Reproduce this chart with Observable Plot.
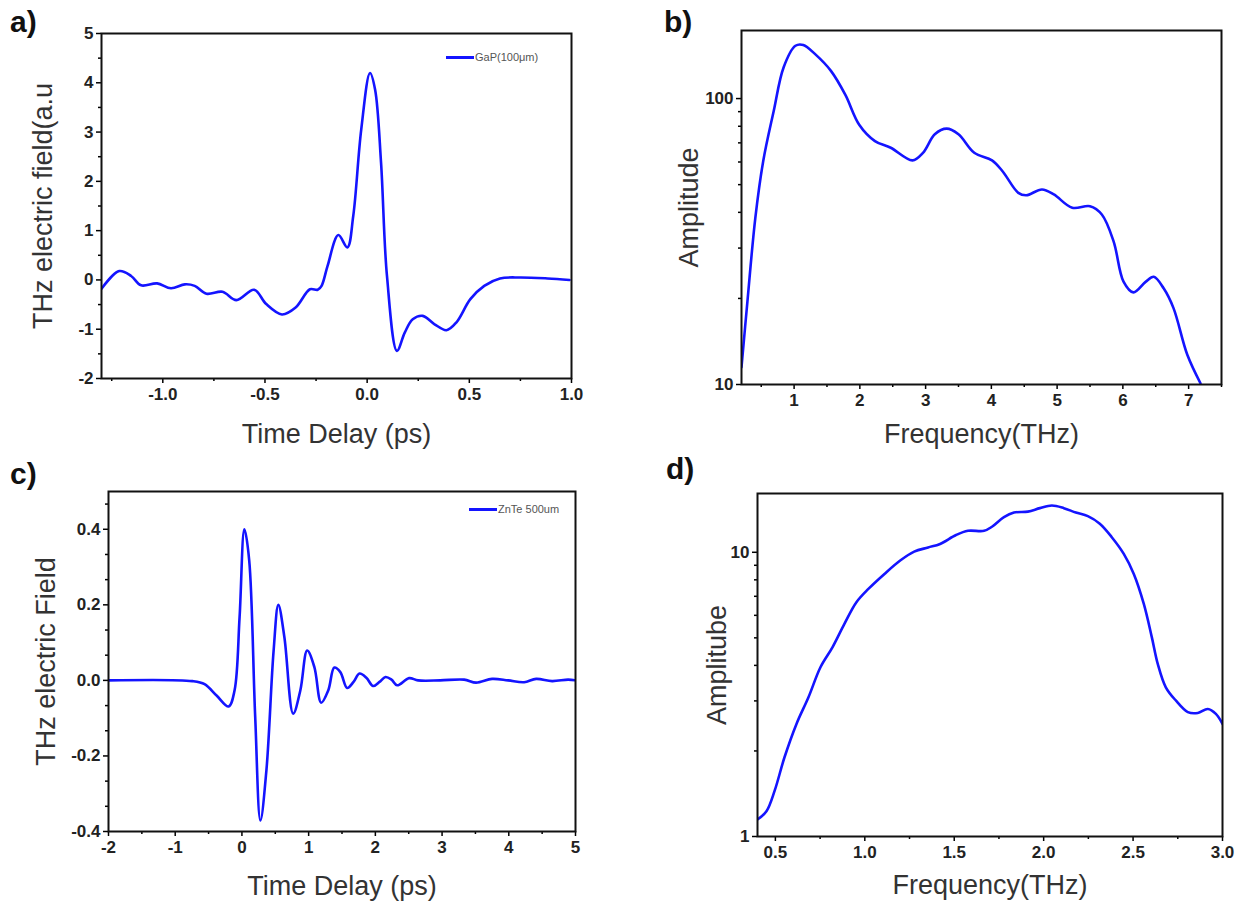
<!DOCTYPE html>
<html><head><meta charset="utf-8">
<script src="https://cdn.jsdelivr.net/npm/d3@7"></script>
<script src="https://cdn.jsdelivr.net/npm/@observablehq/plot@0.6"></script>
<style>
body{margin:0;background:#fff;}
#wrap{position:relative;width:1243px;height:904px;font-family:"Liberation Sans",Arial,sans-serif;}
.panel{position:absolute;}
.plabel{position:absolute;font-weight:bold;font-size:30px;line-height:30px;color:#111;}
.legend{position:absolute;font-size:11px;line-height:12px;color:#555;display:flex;align-items:center;white-space:nowrap;}
.legend .sw{display:inline-block;width:28px;height:3px;background:#1414ff;margin-right:1px;}
</style></head><body><div id="wrap"></div>
<script>
// ---- Panel a: GaP time trace ----
const aTime  = [-1.3,-1.213,-1.155,-1.106,-1.028,-0.96,-0.892,-0.844,-0.786,-0.708,-0.64,-0.553,-0.494,-0.417,-0.35,-0.28,-0.242,-0.223,-0.194,-0.141,-0.097,-0.068,-0.029,0.014,0.039,0.068,0.097,0.146,0.184,0.223,0.272,0.33,0.388,0.437,0.505,0.573,0.65,0.748,0.883,0.99];
const aField = [-0.18,0.18,0.08,-0.11,-0.07,-0.17,-0.09,-0.12,-0.28,-0.24,-0.41,-0.2,-0.49,-0.70,-0.56,-0.19,-0.2,-0.12,0.28,0.91,0.66,1.30,3.05,4.20,3.86,2.38,0.08,-1.44,-1.07,-0.80,-0.73,-0.90,-1.02,-0.86,-0.39,-0.12,0.03,0.05,0.03,0.0];
// ---- Panel b: GaP spectrum ----
const bFreq = [0.2,0.29,0.41,0.53,0.69,0.84,1.02,1.14,1.32,1.56,1.78,1.99,2.23,2.47,2.80,2.96,3.14,3.32,3.50,3.74,4.01,4.17,4.41,4.53,4.77,4.95,5.23,5.50,5.68,5.86,6.01,6.16,6.35,6.47,6.62,6.77,6.98,7.18];
const bAmp  = [11.5,19.5,38.2,60.4,90.5,128.5,153,154,143,125,103,81,71,67.3,60.8,64.6,75,78.5,75,64.6,60.8,55.7,46.8,45.9,48.1,46.2,41.5,42,39.3,31.6,22.9,21.0,22.9,23.8,21.7,18.5,12.7,10.1];
// ---- Panel c: ZnTe time trace ----
const cTime  = [-2,-0.742,-0.56,-0.38,-0.2,-0.11,-0.035,0.037,0.109,0.199,0.277,0.367,0.475,0.546,0.636,0.768,0.876,0.978,1.086,1.188,1.295,1.385,1.475,1.577,1.673,1.763,1.865,1.967,2.062,2.152,2.242,2.326,2.506,2.64,2.97,3.33,3.51,3.75,3.99,4.23,4.41,4.65,4.89,5];
const cField = [0,-0.002,-0.01,-0.04,-0.069,-0.026,0.168,0.40,0.318,-0.097,-0.371,-0.238,0.079,0.20,0.115,-0.088,-0.026,0.079,0.035,-0.059,-0.026,0.034,0.022,-0.02,-0.004,0.018,0.007,-0.015,-0.004,0.009,0.002,-0.013,0.006,0,0,0.002,-0.006,0.004,0,-0.005,0.004,-0.002,0.002,0];
// ---- Panel d: ZnTe spectrum ----
const dFreq = [0.402,0.451,0.496,0.551,0.618,0.685,0.752,0.819,0.886,0.953,1.02,1.11,1.198,1.276,1.354,1.421,1.51,1.577,1.667,1.711,1.778,1.834,1.912,1.979,2.046,2.113,2.18,2.247,2.314,2.381,2.448,2.504,2.56,2.605,2.638,2.683,2.739,2.806,2.862,2.918,2.963,3.0];
const dAmp  = [1.15,1.23,1.45,1.90,2.49,3.09,3.94,4.63,5.6,6.67,7.43,8.39,9.35,10.05,10.4,10.7,11.5,11.9,11.9,12.3,13.3,13.8,13.9,14.3,14.6,14.3,13.8,13.4,12.6,11.3,9.87,8.39,6.58,5.02,4.05,3.35,3.01,2.74,2.72,2.81,2.70,2.49];

// ---- Tick values ----
const aXMajor = [-1.0,-0.5,0.0,0.5,1.0];
const aXMinor = [-1.25,-0.75,-0.25,0.25,0.75];
const aYMajor = [-2,-1,0,1,2,3,4,5];
const aYMinor = [-1.5,-0.5,0.5,1.5,2.5,3.5,4.5];
const bXMajor = [1,2,3,4,5,6,7];
const bXMinor = [0.5,1.5,2.5,3.5,4.5,5.5,6.5,7.5];
const bYMajor = [10,100];
const bYMinor = [20,30,40,50,60,70,80,90];
const cXMajor = [-2,-1,0,1,2,3,4,5];
const cXMinor = [-1.5,-0.5,0.5,1.5,2.5,3.5,4.5];
const cYMajor = [-0.4,-0.2,0.0,0.2,0.4];
const cYMinor = [-0.3333,-0.2667,-0.1333,-0.0667,0.0667,0.1333,0.2667,0.3333,0.4667];
const dXMajor = [0.5,1.0,1.5,2.0,2.5,3.0];
const dXMinor = [0.75,1.25,1.75,2.25,2.75];
const dYMajor = [1,10];
const dYMinor = [2,3,4,5,6,7,8,9];

const LINE = "#1414ff";
const wrap = document.getElementById("wrap");

function panel(o) {
  const data = o.xs.map((x, i) => ({x, y: o.ys[i]}));
  const tickStyle = {fontSize: 17, fontWeight: "bold", fill: "#222"};
  const chart = Plot.plot({
    width: o.w, height: o.h,
    marginLeft: o.m[0], marginTop: o.m[1], marginRight: o.m[2], marginBottom: o.m[3],
    style: {fontFamily: '"Liberation Sans", Arial, sans-serif', background: "transparent", overflow: "visible"},
    x: {domain: o.xDomain},
    y: {domain: o.yDomain, type: o.yType || "linear"},
    marks: [
      Plot.line(data, {x: "x", y: "y", curve: "catmull-rom", stroke: LINE, strokeWidth: 2.6, clip: true}),
      Plot.axisX({ticks: o.xMajor, tickSize: 5, tickPadding: 4, tickFormat: o.xFmt, label: null, strokeWidth: 1.5, ...tickStyle}),
      Plot.axisX({ticks: o.xMinor, tickSize: 3, text: null, label: null, strokeWidth: 1.5}),
      Plot.axisY({ticks: o.yMajor, tickSize: 5, tickPadding: 3, tickFormat: o.yFmt, label: null, strokeWidth: 1.5, ...tickStyle}),
      Plot.axisY({ticks: o.yMinor, tickSize: 3, text: null, label: null, strokeWidth: 1.5}),
      Plot.frame({stroke: "#111", strokeWidth: 2}),
      Plot.text([o.xTitle], {frameAnchor: "bottom", lineAnchor: "middle", textAnchor: "middle", dy: o.xdy, fontSize: 27, fill: "#333"}),
      Plot.text([o.yTitle], {frameAnchor: "left", lineAnchor: "middle", textAnchor: "middle", dx: o.ydx, rotate: -90, fontSize: 27, fill: "#333"})
    ]
  });
  chart.classList.add("panel");
  chart.style.left = o.left + "px";
  chart.style.top = o.top + "px";
  wrap.appendChild(chart);
}

const fmt1 = d => d.toFixed(1);
const fmt0 = d => String(d);

panel({left: 0, top: 0, w: 621, h: 452, m: [101, 33, 50, 74],
  xs: aTime, ys: aField, xDomain: [-1.3, 1.0], yDomain: [-2, 5],
  xMajor: aXMajor, xMinor: aXMinor, yMajor: aYMajor, yMinor: aYMinor,
  xFmt: fmt1, yFmt: fmt0, xTitle: "Time Delay (ps)", yTitle: "THz electric field(a.u", xdy: 56, ydx: -58});

panel({left: 621, top: 0, w: 622, h: 452, m: [120, 30, 22, 68],
  xs: bFreq, ys: bAmp, xDomain: [0.2, 7.5], yDomain: [10, 173], yType: "log",
  xMajor: bXMajor, xMinor: bXMinor, yMajor: bYMajor, yMinor: bYMinor,
  xFmt: fmt0, yFmt: fmt0, xTitle: "Frequency(THz)", yTitle: "Amplitude", xdy: 50, ydx: -52});

panel({left: 0, top: 452, w: 621, h: 452, m: [108, 39, 46, 73],
  xs: cTime, ys: cField, xDomain: [-2, 5], yDomain: [-0.4, 0.5],
  xMajor: cXMajor, xMinor: cXMinor, yMajor: cYMajor, yMinor: cYMinor,
  xFmt: fmt0, yFmt: fmt1, xTitle: "Time Delay (ps)", yTitle: "THz electric Field", xdy: 55, ydx: -62});

panel({left: 621, top: 452, w: 622, h: 452, m: [136, 41, 21, 68],
  xs: dFreq, ys: dAmp, xDomain: [0.4, 3.0], yDomain: [1, 16.1], yType: "log",
  xMajor: dXMajor, xMinor: dXMinor, yMajor: dYMajor, yMinor: dYMinor,
  xFmt: fmt1, yFmt: fmt0, xTitle: "Frequency(THz)", yTitle: "Amplitube", xdy: 49, ydx: -40});

// panel letters
[["a)", 10, 7], ["b)", 664, 7], ["c)", 10, 459], ["d)", 666, 454]].forEach(([t, l, tp]) => {
  const d = document.createElement("div");
  d.className = "plabel"; d.textContent = t;
  d.style.left = l + "px"; d.style.top = tp + "px";
  wrap.appendChild(d);
});

// legends
[["GaP(100\u03bcm)", 446, 51], ["ZnTe 500um", 469, 503]].forEach(([t, l, tp]) => {
  const d = document.createElement("div");
  d.className = "legend";
  d.style.left = l + "px"; d.style.top = tp + "px";
  d.innerHTML = '<span class="sw"></span>' + t;
  wrap.appendChild(d);
});
</script>
</body></html>
